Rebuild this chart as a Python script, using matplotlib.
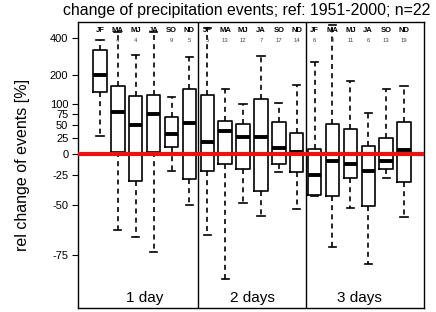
import numpy as np
import matplotlib
matplotlib.use("Agg")
import matplotlib.pyplot as plt

plt.rcParams['font.family'] = ['Liberation Sans', 'DejaVu Sans']

# box statistics, rel change in %
seasons = ["JF", "MA", "MJ", "JA", "SO", "ND"]
panels = ["1 day", "2 days", "3 days"]
counts = ["", "4", "4", "", "9", "5",
          "5", "13", "12", "7", "17", "14",
          "6", "8", "11", "6", "13", "19"]

whis_hi = [385, 442, 294, 442, 120, 283,
           473, 146, 100, 289, 103, 160,
           258, 497, 175, 76, 146, 157]
q3 = [322, 157, 123, 126, 67, 146,
      126, 58, 52, 114, 56, 34,
      7, 52, 41, 13, 25, 56]
med = [199, 79, 49, 74, 32, 54,
       18, 38, 27, 27, 9, 4,
       -25, -9, -12, -21, -9, 6]
q1 = [136, 3, -31, 3, 10, -29,
      -21, -13, -18, -40, -12, -22,
      -43, -44, -28, -51, -18, -32]
whis_lo = [28, -65, -68, -74, -21, -50,
           -67, -82, -49, -57, -22, -53,
           -44, -72, -52, -78, -28, -58]

yticks = [400, 200, 100, 75, 50, 25, 0, -25, -50, -75]


def fwd(r):
    return np.log(np.clip(1 + np.asarray(r) / 100.0, 1e-6, None))


def inv(v):
    return (np.exp(v) - 1) * 100.0


fig = plt.figure(figsize=(4.36, 3.12), dpi=100)
ax = fig.add_axes([0.179, 0.013, 0.7935, 0.9165])
ax.set_yscale('function', functions=(fwd, inv))

stats = []
for i in range(len(med)):
    stats.append(dict(med=med[i], q1=q1[i], q3=q3[i],
                      whislo=whis_lo[i], whishi=whis_hi[i], fliers=[]))
pos = np.arange(1, len(med) + 1)
ax.bxp(stats, positions=pos, widths=0.75, showfliers=False,
       boxprops=dict(color='black', linewidth=1.2),
       medianprops=dict(color='black', linewidth=2.8),
       whiskerprops=dict(color='black', linewidth=1.2, linestyle=(0, (3, 2.5))),
       capprops=dict(color='black', linewidth=1.2),
       capwidths=0.4)

ax.axhline(0, color='#ee1111', linewidth=3, zorder=5)
for d in [6.5, 12.5]:
    ax.axvline(d, color='black', linewidth=1.0)

ax.set_xlim(-0.23, 19.12)
ax.set_ylim(-88, 522)
ax.set_xticks([])
ax.set_yticks(yticks)
ax.set_yticklabels([str(t) for t in yticks], fontsize=8)
ax.minorticks_off()
ax.tick_params(axis='y', length=4, width=0.8, pad=3)
for s in ax.spines.values():
    s.set_linewidth(1.0)

for i, p in enumerate(pos):
    ax.text(p, 0.972, seasons[i % 6], transform=ax.get_xaxis_transform(),
            ha='center', va='center', fontsize=5.5, fontweight='bold')
    if counts[i]:
        ax.text(p, 0.937, counts[i], transform=ax.get_xaxis_transform(),
                ha='center', va='center', fontsize=4.2, color='#444444')

for k, lab in enumerate(panels):
    ax.text(3.5 + 6 * k, 0.035, lab, transform=ax.get_xaxis_transform(),
            ha='center', va='center', fontsize=11)

fig.text(0.566, 0.967, "change of precipitation events; ref: 1951-2000; n=22",
         ha='center', va='center', fontsize=11.4)
ax.set_ylabel("rel change of events [%]", fontsize=11.5, labelpad=14)

fig.savefig("out.png", dpi=100)
